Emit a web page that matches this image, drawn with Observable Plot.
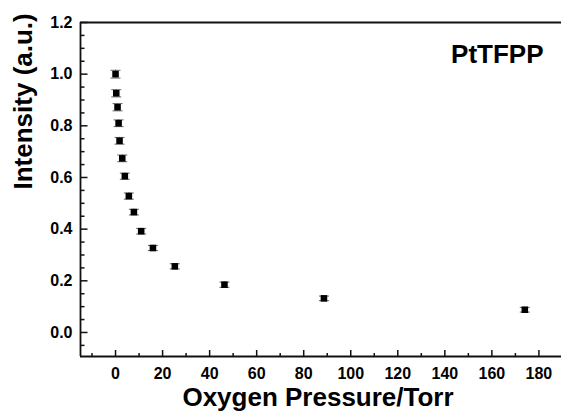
<!DOCTYPE html>
<html>
<head>
<meta charset="utf-8">
<script src="https://cdn.jsdelivr.net/npm/d3@7"></script>
<script src="https://cdn.jsdelivr.net/npm/@observablehq/plot@0.6"></script>
<style>
  html, body { margin: 0; padding: 0; background: #fff; }
  #chart svg { display: block; }
</style>
</head>
<body>
<div id="chart"></div>
<script>
// Data
const pressure = [0, 0.3, 0.85, 1.3, 1.7, 2.85, 3.95, 5.65, 7.8, 10.9, 15.9, 25.2, 46.3, 88.6, 174];
const intensity = [1.0, 0.926, 0.872, 0.81, 0.742, 0.674, 0.605, 0.528, 0.466, 0.392, 0.327, 0.256, 0.185, 0.132, 0.088];
const errorBar = [0.015, 0.014, 0.014, 0.013, 0.013, 0.013, 0.012, 0.012, 0.011, 0.011, 0.01, 0.01, 0.01, 0.009, 0.009];

// Ticks
const xMajorTicks = [0, 20, 40, 60, 80, 100, 120, 140, 160, 180];
const xMinorTicks = [-10, 10, 30, 50, 70, 90, 110, 130, 150, 170];
const yMajorTicks = [0.0, 0.2, 0.4, 0.6, 0.8, 1.0, 1.2];
const yMinorTicks = [-0.05, 0.05, 0.1, 0.15, 0.25, 0.3, 0.35, 0.45, 0.5, 0.55, 0.65, 0.7, 0.75, 0.85, 0.9, 0.95, 1.05, 1.1, 1.15];

const xLabel = "Oxygen Pressure/Torr";
const yLabel = "Intensity (a.u.)";
const seriesName = "PtTFPP";

const xDomain = [-14.9, 189.6];
const yDomain = [-0.093, 1.2];

const rows = pressure.map((p, i) => ({p, v: intensity[i], lo: intensity[i] - errorBar[i], hi: intensity[i] + errorBar[i]}));

const font = "'Liberation Sans', Arial, Helvetica, sans-serif";

const capSym = {draw(c) { c.moveTo(-5, 0); c.lineTo(5, 0); }};
const xMajSym = {draw(c) { c.moveTo(0, 0); c.lineTo(0, -6.5); }};
const xMinSym = {draw(c) { c.moveTo(0, 0); c.lineTo(0, -3.5); }};
const yMajSym = {draw(c) { c.moveTo(0, 0); c.lineTo(7, 0); }};
const yMinSym = {draw(c) { c.moveTo(0, 0); c.lineTo(4, 0); }};

const chart = Plot.plot({
  width: 561,
  height: 419,
  marginLeft: 80,
  marginRight: 0,
  marginTop: 22,
  marginBottom: 63,
  style: {fontFamily: font, fontSize: "16px", fontWeight: "bold", color: "#000", background: "#fff"},
  x: {domain: xDomain, label: null},
  y: {domain: yDomain, label: null},
  marks: [
    // frame lines (top, bottom, left)
    Plot.ruleY([yDomain[0], yDomain[1]], {stroke: "#111", strokeWidth: 1.8}),
    Plot.ruleX([xDomain[0]], {stroke: "#111", strokeWidth: 1.8}),
    // inward ticks
    Plot.dot(xMajorTicks, {x: d => d, frameAnchor: "bottom", symbol: xMajSym, stroke: "#111", strokeWidth: 1.5, fill: "none"}),
    Plot.dot(xMinorTicks, {x: d => d, frameAnchor: "bottom", symbol: xMinSym, stroke: "#111", strokeWidth: 1.5, fill: "none"}),
    Plot.dot(yMajorTicks, {y: d => d, frameAnchor: "left", symbol: yMajSym, stroke: "#111", strokeWidth: 1.5, fill: "none"}),
    Plot.dot(yMinorTicks, {y: d => d, frameAnchor: "left", symbol: yMinSym, stroke: "#111", strokeWidth: 1.5, fill: "none"}),
    // tick labels
    Plot.axisX(xMajorTicks, {tickSize: 0, tickPadding: 11, tickFormat: d => String(d), label: null, fontSize: 16, fontWeight: "bold"}),
    Plot.axisY(yMajorTicks, {tickSize: 0, tickPadding: 8, tickFormat: d3.format(".1f"), label: null, fontSize: 16, fontWeight: "bold"}),
    // error bars
    Plot.ruleX(rows, {x: "p", y1: "lo", y2: "hi", stroke: "#000", strokeWidth: 1}),
    Plot.dot(rows, {x: "p", y: "lo", symbol: capSym, stroke: "#666", strokeWidth: 1, fill: "none"}),
    Plot.dot(rows, {x: "p", y: "hi", symbol: capSym, stroke: "#666", strokeWidth: 1, fill: "none"}),
    // markers
    Plot.dot(rows, {x: "p", y: "v", symbol: "square", r: 3.7, fill: "#000", stroke: "none"}),
    // axis titles
    Plot.text([xLabel], {text: d => d, frameAnchor: "bottom", dx: -3, dy: 49, fontSize: 26, fontWeight: "bold", fill: "#000"}),
    Plot.text([yLabel], {text: d => d, frameAnchor: "left", rotate: -90, dx: -56.5, fontSize: 26, fontWeight: "bold", fill: "#000"}),
    Plot.text([seriesName], {text: d => d, frameAnchor: "top-right", textAnchor: "end", dx: -18, dy: 22, fontSize: 26, fontWeight: "bold", fill: "#000"})
  ]
});
document.getElementById("chart").appendChild(chart);
</script>
</body>
</html>
